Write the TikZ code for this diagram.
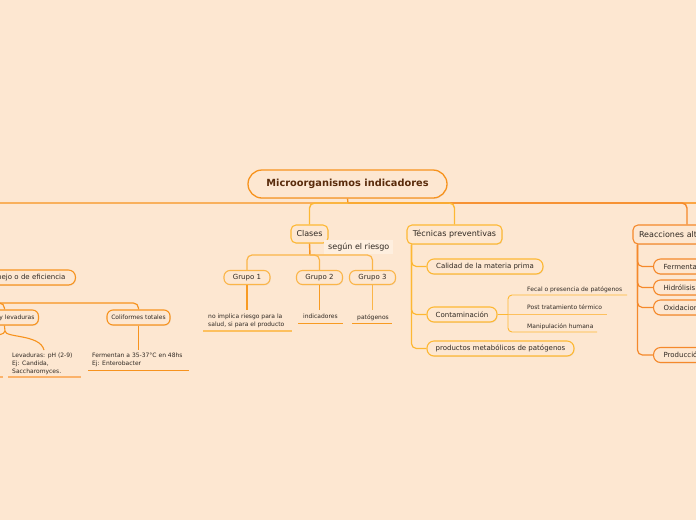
\documentclass[tikz,border=0pt]{standalone}
\usepackage{fontspec}
\setmainfont{DejaVu Sans}
\usetikzlibrary{shadows}
\definecolor{bg}{HTML}{FDE7D1}
\definecolor{lbl}{HTML}{FEEFDF}
\definecolor{org}{HTML}{F7931E}
\definecolor{lorg}{HTML}{FBA544}
\definecolor{ylw}{HTML}{FDB833}
\definecolor{ylwl}{HTML}{FBB548}
\definecolor{ulyl}{HTML}{FDC05E}
\definecolor{ulor}{HTML}{FBB26A}
\definecolor{dorg}{HTML}{F5892B}
\definecolor{txt}{HTML}{2F2822}
\definecolor{roottxt}{HTML}{5A2C0C}
\newcommand{\fsz}[1]{\fontsize{#1}{#1}\selectfont}
\begin{document}
\begin{tikzpicture}[x=1pt,y=-1pt,
  every node/.style={text=txt, inner sep=0pt},
  bx/.style={draw, fill=bg, rounded corners=#1, line width=1.1pt,
    drop shadow={shadow xshift=0.6pt,shadow yshift=-0.9pt,opacity=0.12}},
  bx/.default=6pt,
  conn/.style={line width=1.2pt, rounded corners=5pt},
  leaf/.style={font=\fontsize{6}{7.8}\selectfont, align=left, anchor=north west},
  ul/.style={line width=0.9pt},
]
\fill[bg] (0,0) rectangle (696,520);
\useasboundingbox (0,0) rectangle (696,520);

% ---------- nodes ----------
\node[bx=14pt, draw=org, line width=1.3pt, minimum width=199pt, minimum height=28pt,
      font=\fsz{9.8}\bfseries, text=roottxt] (root) at (347.5,184) {Microorganismos indicadores};

\node[bx=5pt, draw=ylw, minimum width=37pt, minimum height=18pt, font=\fsz{8}] (clases) at (309.5,234) {Clases};
\node[fill=lbl, inner xsep=4pt, inner ysep=2.5pt, anchor=west, font=\fsz{8}] (segun) at (324,247) {según el riesgo};

\node[bx, draw=ylwl, minimum width=46pt, minimum height=14pt, font=\fsz{7}] (g1) at (247,277.5) {Grupo 1};
\node[bx, draw=ylwl, minimum width=46pt, minimum height=14pt, font=\fsz{7}] (g2) at (319.5,277.5) {Grupo 2};
\node[bx, draw=ylwl, minimum width=46pt, minimum height=14pt, font=\fsz{7}] (g3) at (372.5,277.5) {Grupo 3};

\node[leaf] (l1) at (208,314) {no implica riesgo para la\\salud, si para el producto};
\node[leaf] (l2) at (303,314) {indicadores};
\node[leaf] (l3) at (357,314) {patógenos};

\node[bx=5pt, draw=ylw, minimum width=95pt, minimum height=19pt, font=\fsz{8}] (tec) at (454.5,234.5) {Técnicas preventivas};
\node[bx=7pt, draw=ylw, minimum width=116pt, minimum height=15pt, font=\fsz{7}] (cal) at (485,266.5) {Calidad de la materia prima};
\node[bx=7pt, draw=ylw, minimum width=70pt, minimum height=15pt, font=\fsz{7}] (con) at (462,314.5) {Contaminación};
\node[bx=7pt, draw=ylw, minimum width=147pt, minimum height=15pt, font=\fsz{7}] (prod) at (500.5,348.5) {productos metabólicos de patógenos};

\node[leaf] (fecal) at (527,286) {Fecal o presencia de patógenos};
\node[leaf] (post) at (527,304) {Post tratamiento térmico};
\node[leaf] (manip) at (527,323) {Manipulación humana};

\node[bx=5pt, draw=dorg, minimum height=19pt, text width=96pt, inner xsep=6pt, align=left, font=\fsz{8}] (reac) at (687,234.5) {Reacciones alt};
\node[bx=7pt, draw=dorg, anchor=west, minimum height=15pt, text width=60pt, inner xsep=10pt, align=left, font=\fsz{7}] (ferm) at (653,266.5) {Fermenta};
\node[bx=7pt, draw=dorg, anchor=west, minimum height=15pt, text width=33pt, inner xsep=10pt, align=left, font=\fsz{7}] (hidr) at (653,287.5) {Hidrólisis};
\node[bx=7pt, draw=dorg, anchor=west, minimum height=15pt, text width=60pt, inner xsep=10pt, align=left, font=\fsz{7}] (oxid) at (653,307.5) {Oxidacion};
\node[bx=7pt, draw=dorg, anchor=west, minimum height=15pt, text width=60pt, inner xsep=10pt, align=left, font=\fsz{7}] (prodc) at (653,355) {Producció};

\node[bx=7pt, draw=org, anchor=east, minimum height=15pt, text width=150pt, inner xsep=10pt, align=right, font=\fsz{7}] (manejo) at (76,277.5) {nejo o de eficiencia};
\node[bx=6pt, draw=org, anchor=east, minimum height=15pt, text width=60pt, inner xsep=4pt, align=right, font=\fsz{6}] (levbox) at (39,317.5) {y levaduras};
\node[bx=6pt, draw=org, minimum width=63pt, minimum height=15pt, font=\fsz{6}] (coli) at (138.5,317.5) {Coliformes totales};

\node[leaf] (lev) at (12,353) {Levaduras: pH (2-9)\\Ej: Candida,\\Saccharomyces.};
\node[leaf] (ferleaf) at (92,353) {Fermentan a 35-37°C en 48hs\\Ej: Enterobacter};

% ---------- coordinates for free ends ----------
\coordinate (hub) at (348,203);
\coordinate (rightout) at (720,203);
\coordinate (cj) at (310,255);
\coordinate (l1top) at (247,310);
\coordinate (l2top) at (319.5,310);
\coordinate (l3top) at (372.5,310);
\coordinate (u1a) at (203,331); \coordinate (u1b) at (292,331);
\coordinate (u2a) at (298,323); \coordinate (u2b) at (343,323);
\coordinate (u3a) at (352,323); \coordinate (u3b) at (392,323);
\coordinate (cj2) at (508,314.5);
\coordinate (ufe) at (627,295);
\coordinate (upo) at (607,314.5);
\coordinate (uma) at (597,332);
\coordinate (lvj) at (5,331);
\coordinate (lvr) at (44,350);
\coordinate (lvl) at (-34,350);
\coordinate (ulva) at (8,377); \coordinate (ulvb) at (81,377);
\coordinate (ulxa) at (-40,377); \coordinate (ulxb) at (3,377);
\coordinate (clj) at (138.5,350);
\coordinate (ucoa) at (88,370); \coordinate (ucob) at (189,370);

% ---------- connectors ----------
\draw[line width=1.3pt, org] (root.south) -- (hub);
\draw[line width=1.4pt, lorg] (hub) -- (rightout);
\draw[conn, org, line width=1.4pt] (hub) -| (manejo.north);
\draw[conn, dorg, line width=1.4pt] (hub) -| (reac.north);
\draw[conn, ylw, line width=1.4pt] (hub) -| (clases.north);
\draw[conn, ylw, line width=1.4pt] (hub) -| (tec.north);

\draw[line width=1.4pt, org] (clases.south) -- (cj);
\draw[conn, ylwl] (cj) -| (g1.north);
\draw[conn, ylwl] (cj) -| (g2.north);
\draw[conn, ylwl] (cj) -| (g3.north);
\draw[line width=1.1pt, org!80!ylw] (g1.south) -- (l1top);
\draw[line width=1.1pt, org!80!ylw] (g2.south) -- (l2top);
\draw[line width=1.1pt, ylwl] (g3.south) -- (l3top);
\draw[line width=1.8pt, ulyl] (u1a) -- (u1b);
\draw[ul, org!80!ylw] (u2a) -- (u2b);
\draw[ul, org!80!ylw] (u3a) -- (u3b);

\draw[conn, ylw] ([xshift=5pt]tec.south west) |- (cal.west);
\draw[conn, ylw] ([xshift=5pt]tec.south west) |- (con.west);
\draw[conn, ylw] ([xshift=5pt]tec.south west) |- (prod.west);

\draw[line width=1.8pt, ylw] (con.east) -- (cj2);
\draw[ul, ylw, rounded corners=4pt] (cj2) |- (ufe);
\draw[line width=1.6pt, ulyl] (cj2) -- (upo);
\draw[ul, ylw, rounded corners=4pt] (cj2) |- (uma);

\draw[conn, dorg] ([xshift=5pt]reac.south west) |- (ferm.west);
\draw[conn, dorg] ([xshift=5pt]reac.south west) |- (hidr.west);
\draw[conn, dorg] ([xshift=5pt]reac.south west) |- (oxid.west);
\draw[conn, dorg] ([xshift=5pt]reac.south west) |- (prodc.west);

\draw[conn, org] (manejo.south) -- ++(0,17.5) -| (levbox.north);
\draw[conn, org] (manejo.south) -- ++(0,17.5) -| (coli.north);
\draw[line width=1.1pt, org] (levbox.south) -- (lvj) .. controls (5,338) and (40,334) .. (lvr);
\draw[line width=1.1pt, org] (lvj) .. controls (5,338) and (-30,334) .. (lvl);
\draw[line width=1.8pt, ulor] (ulva) -- (ulvb);
\draw[line width=1.8pt, ulor] (ulxa) -- (ulxb);
\draw[line width=1.1pt, org] (coli.south) -- (clj);
\draw[ul, org] (ucoa) -- (ucob);
\end{tikzpicture}
\end{document}
